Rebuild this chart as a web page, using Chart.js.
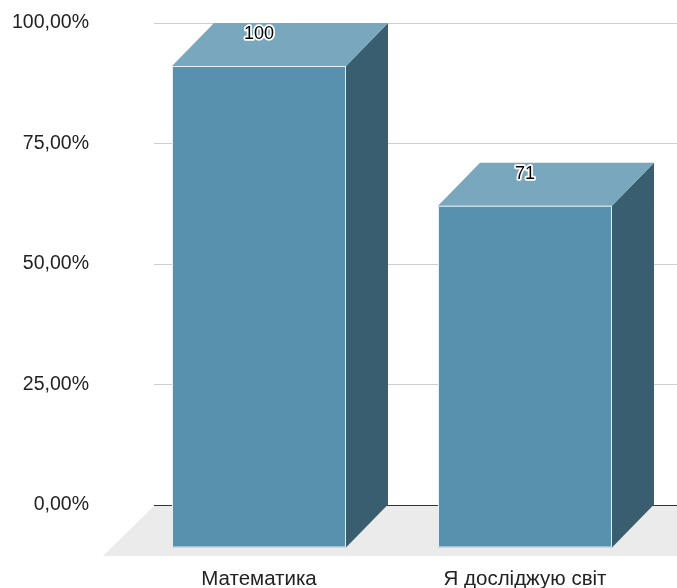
<!DOCTYPE html>
<html>
<head>
<meta charset="utf-8">
<script src="https://cdn.jsdelivr.net/npm/chart.js@4/dist/chart.umd.min.js"></script>
<style>
    html, body { margin: 0; padding: 0; background: #fff; }
    canvas { display: block; }
</style>
</head>
<body>
<canvas id="chart" width="677" height="588"></canvas>
<script>
// Data
const categories = ['Математика', 'Я досліджую світ'];
const values = [100, 71];
const yTicks = [0, 25, 50, 75, 100];

// 3D look
const DEPTH_X = 42, DEPTH_Y = 43;
const FLOOR_X = 51, FLOOR_Y = 50;
const OVERHANG = 23; // plot runs past the right edge of the canvas
const FONT = 'Arial, "Liberation Sans", sans-serif';

const colors = {
    front: '#5891ad',
    top: '#79a8be',
    side: '#395e6f',
    floor: '#ebebeb'
};

function poly(ctx, pts, fill) {
    ctx.beginPath();
    ctx.moveTo(pts[0][0], pts[0][1]);
    pts.slice(1).forEach(p => ctx.lineTo(p[0], p[1]));
    ctx.closePath();
    ctx.fillStyle = fill;
    ctx.fill();
}

// Draws floor + boxes from the bar elements Chart.js laid out
const bars3d = {
    id: 'bars3d',
    afterLayout(chart) {
        const x = chart.scales.x;
        x.right += OVERHANG;
        x.width += OVERHANG;
        chart.chartArea.right += OVERHANG;
        chart.chartArea.width += OVERHANG;
        x.configure();
    },
    beforeDatasetsDraw(chart) {
        const ctx = chart.ctx;
        const a = chart.chartArea;
        const y0 = chart.scales.y.getPixelForValue(0) + 1;
        const left = a.left - 14;
        ctx.save();
        poly(ctx, [
            [left, y0], [chart.width, y0],
            [chart.width, y0 + FLOOR_Y], [left - FLOOR_X, y0 + FLOOR_Y]
        ], colors.floor);
        ctx.restore();
    },
    afterDatasetsDraw(chart) {
        const ctx = chart.ctx;
        const meta = chart.getDatasetMeta(0);
        ctx.save();
        meta.data.forEach((bar, i) => {
            const p = bar.getProps(['x', 'y', 'base', 'width'], true);
            const l = p.x - p.width / 2, r = p.x + p.width / 2;
            const t = p.y, b = p.base;

            // right side
            poly(ctx, [[r, t], [r, b], [r - DEPTH_X, b + DEPTH_Y], [r - DEPTH_X, t + DEPTH_Y]], colors.side);
            // top
            poly(ctx, [[l, t], [r, t], [r - DEPTH_X, t + DEPTH_Y], [l - DEPTH_X, t + DEPTH_Y]], colors.top);
            // front
            ctx.fillStyle = colors.front;
            ctx.fillRect(l - DEPTH_X, t + DEPTH_Y, p.width, b - t);
            ctx.strokeStyle = 'rgba(255,255,255,0.85)';
            ctx.lineWidth = 1;
            ctx.strokeRect(l - DEPTH_X + 0.5, t + DEPTH_Y + 0.5, p.width - 1, b - t - 1);

            // value label
            ctx.font = '18px ' + FONT;
            ctx.textAlign = 'center';
            ctx.textBaseline = 'middle';
            ctx.lineJoin = 'round';
            ctx.lineWidth = 3.5;
            ctx.strokeStyle = '#fff';
            ctx.strokeText(String(values[i]), p.x - DEPTH_X, t + 11);
            ctx.fillStyle = '#000';
            ctx.fillText(String(values[i]), p.x - DEPTH_X, t + 11);
        });
        ctx.restore();
    }
};

new Chart(document.getElementById('chart'), {
    type: 'bar',
    data: {
        labels: categories,
        datasets: [{
            data: values,
            backgroundColor: 'transparent',
            borderWidth: 0,
            categoryPercentage: 1,
            barPercentage: 0.654
        }]
    },
    options: {
        responsive: false,
        animation: false,
        layout: { padding: { top: 23, right: 0, left: 0, bottom: 0 } },
        plugins: { legend: { display: false }, tooltip: { enabled: false } },
        scales: {
            x: {
                grid: { display: false, drawTicks: false },
                border: { display: false },
                ticks: {
                    color: '#222',
                    font: { family: FONT, size: 20.5 },
                    padding: 62,
                    labelOffset: -DEPTH_X,
                    maxRotation: 0
                },
                afterFit: s => { s.height = 83; s.paddingLeft = 0; s.paddingRight = 0; }
            },
            y: {
                min: 0,
                max: 100,
                afterBuildTicks: s => { s.ticks = yTicks.map(v => ({ value: v })); },
                grid: {
                    color: c => (c.tick && c.tick.value === 0 ? '#333' : '#cfcfcf'),
                    tickLength: 14,
                    lineWidth: 1
                },
                border: { display: false },
                ticks: {
                    color: '#222',
                    font: { family: FONT, size: 19.5 },
                    padding: 65,
                    callback: v => v.toFixed(2).replace('.', ',') + '%'
                },
                afterFit: s => { s.width = 168; s.paddingTop = 0; s.paddingBottom = 0; }
            }
        }
    },
    plugins: [bars3d]
});
</script>
</body>
</html>
